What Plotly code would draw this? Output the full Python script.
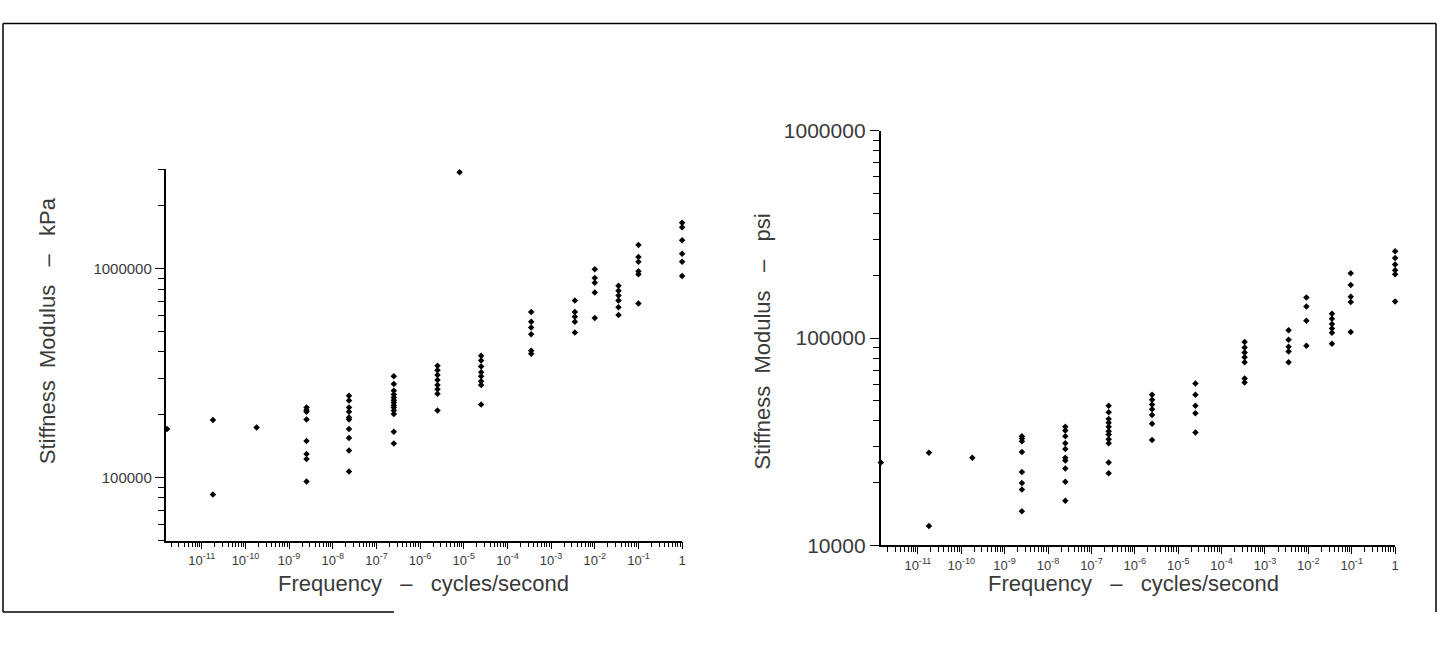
import plotly.graph_objects as go

# ---------------- data ----------------
kpa_freq = [1.6e-12, 1.8e-11, 1.8e-10, 2.5e-9, 2.35e-8, 2.5e-7, 2.5e-6, 8e-6,
            2.5e-5, 3.5e-4, 3.5e-3, 1e-2, 3.5e-2, 1e-1, 1.0]
kpa_values = [
    [171000],
    [189000, 83000],
    [174000],
    [217000, 211000, 207000, 190000, 150000, 130000, 123000, 96000],
    [247000, 234000, 217000, 207000, 194000, 190000, 171000, 155000, 135000, 107000],
    [306000, 281000, 261000, 250000, 242000, 235000, 229000, 222000, 217000, 210000, 202000, 166000, 146000],
    [344000, 327000, 310000, 294000, 278000, 265000, 252000, 210000],
    [2900000],
    [384000, 364000, 341000, 320000, 306000, 290000, 278000, 224000],
    [621000, 558000, 524000, 486000, 405000, 392000],
    [706000, 621000, 589000, 558000, 496000],
    [995000, 903000, 857000, 770000, 582000],
    [830000, 786000, 745000, 706000, 655000, 601000],
    [1300000, 1140000, 1080000, 973000, 942000, 683000],
    [1660000, 1580000, 1370000, 1180000, 1080000, 923000],
]

psi_freq = [1.4e-12, 1.8e-11, 1.8e-10, 2.5e-9, 2.5e-8, 2.5e-7, 2.5e-6,
            2.5e-5, 3.4e-4, 3.5e-3, 9e-3, 3.5e-2, 9.5e-2, 1.0]
psi_values = [
    [25100],
    [28000, 12400],
    [26500],
    [33600, 32800, 31800, 28200, 22600, 20000, 18600, 14600],
    [37300, 35800, 33600, 31100, 29200, 26500, 25700, 23500, 20300, 16400],
    [47200, 43800, 40700, 39000, 37300, 35500, 34300, 32500, 31100, 25100, 22300],
    [53200, 50400, 47800, 45300, 42500, 38600, 32200],
    [60400, 53200, 47200, 43400, 35000],
    [95800, 90000, 85100, 80700, 76500, 63800, 61100],
    [109000, 98000, 90800, 86100, 76500],
    [157000, 142000, 121000, 91800],
    [131000, 124000, 117000, 111000, 106000, 93800],
    [205000, 180000, 158000, 149000, 107000],
    [262000, 243000, 226000, 212000, 203000, 150000],
]

x_tick_vals = [1e-11, 1e-10, 1e-9, 1e-8, 1e-7, 1e-6, 1e-5, 1e-4, 1e-3, 1e-2, 1e-1, 1]
x_tick_text = ["10<sup>-11</sup>", "10<sup>-10</sup>", "10<sup>-9</sup>", "10<sup>-8</sup>",
               "10<sup>-7</sup>", "10<sup>-6</sup>", "10<sup>-5</sup>", "10<sup>-4</sup>",
               "10<sup>-3</sup>", "10<sup>-2</sup>", "10<sup>-1</sup>", "1"]
kpa_tick_vals = [100000, 1000000]
kpa_tick_text = ["100000", "1000000"]
psi_tick_vals = [10000, 100000, 1000000]
psi_tick_text = ["10000", "100000", "1000000"]


def expand(freqs, vals):
    xs, ys = [], []
    for f, vs in zip(freqs, vals):
        for v in vs:
            xs.append(f)
            ys.append(v)
    return xs, ys


kx, ky = expand(kpa_freq, kpa_values)
px, py = expand(psi_freq, psi_values)

W, H = 1446, 649
FONT = "Liberation Sans, Arial, sans-serif"
TXT = "#3a3a3a"

fig = go.Figure()
fig.add_trace(go.Scatter(x=kx, y=ky, mode="markers", xaxis="x", yaxis="y",
                         marker=dict(symbol="diamond", size=5, color="black"),
                         cliponaxis=False, showlegend=False))
fig.add_trace(go.Scatter(x=px, y=py, mode="markers", xaxis="x2", yaxis="y2",
                         marker=dict(symbol="diamond", size=5, color="black"),
                         cliponaxis=False, showlegend=False))


def xaxis(domain, rng, anchor):
    return dict(type="log", domain=domain, range=rng, anchor=anchor,
                showline=True, linecolor="black", linewidth=1.5,
                showgrid=False, zeroline=False,
                tickmode="array", tickvals=x_tick_vals, ticktext=x_tick_text,
                ticks="outside", ticklen=7, tickcolor="black", tickwidth=1,
                minor=dict(ticks="outside", ticklen=5, dtick="D1", tickcolor="black",
                           showgrid=False),
                tickfont=dict(family=FONT, size=13, color=TXT))


def yaxis(domain, rng, anchor, vals, text, fsize):
    return dict(type="log", domain=domain, range=rng, anchor=anchor,
                showline=True, linecolor="black", linewidth=1.5,
                showgrid=False, zeroline=False,
                tickmode="array", tickvals=vals, ticktext=text,
                ticks="outside", ticklen=9, tickcolor="black", tickwidth=1,
                minor=dict(ticks="outside", ticklen=6, dtick="D1", tickcolor="black",
                           showgrid=False),
                tickfont=dict(family=FONT, size=fsize, color=TXT))


fig.update_layout(
    width=W, height=H,
    margin=dict(l=0, r=0, t=0, b=0),
    paper_bgcolor="white", plot_bgcolor="white",
    xaxis=xaxis([166 / W, 684 / W], [-11.83, 0], "y"),
    yaxis=yaxis([1 - 548 / H, 1 - 163 / H], [4.699, 6.477], "x",
                kpa_tick_vals, kpa_tick_text, 15),
    xaxis2=xaxis([883 / W, 1399 / W], [-11.86, 0], "y2"),
    yaxis2=yaxis([1 - 553 / H, 1 - 123 / H], [4, 6], "x2",
                 psi_tick_vals, psi_tick_text, 21),
)

ann_font = dict(family=FONT, size=22, color=TXT)
NB = "\u00a0"
SEP = f"{NB}{NB}{NB}–{NB}{NB}{NB}"
fig.add_annotation(x=425 / W, y=1 - 592 / H, xref="paper", yref="paper",
                   text=f"Frequency{SEP}cycles/second", showarrow=False,
                   font=ann_font, xanchor="center", yanchor="middle")
fig.add_annotation(x=1137 / W, y=1 - 592 / H, xref="paper", yref="paper",
                   text=f"Frequency{SEP}cycles/second", showarrow=False,
                   font=ann_font, xanchor="center", yanchor="middle")
fig.add_annotation(x=47 / W, y=1 - 330 / H, xref="paper", yref="paper",
                   text=f"Stiffness{NB}{NB}Modulus{SEP}kPa", showarrow=False,
                   font=ann_font, textangle=-90, xanchor="center", yanchor="middle")
fig.add_annotation(x=765 / W, y=1 - 342 / H, xref="paper", yref="paper",
                   text=f"Stiffness{NB}{NB}Modulus{SEP}psi", showarrow=False,
                   font=ann_font, textangle=-90, xanchor="center", yanchor="middle")

# outer frame of the scanned page
line = dict(color="black", width=1.5)
fig.add_shape(type="line", xref="paper", yref="paper", x0=3 / W, x1=1440 / W,
              y0=1 - 12 / H, y1=1 - 12 / H, line=line)
fig.add_shape(type="line", xref="paper", yref="paper", x0=3 / W, x1=3 / W,
              y0=1 - 12 / H, y1=1 - 622 / H, line=line)
fig.add_shape(type="line", xref="paper", yref="paper", x0=1440 / W, x1=1440 / W,
              y0=1 - 12 / H, y1=1 - 622 / H, line=line)
fig.add_shape(type="line", xref="paper", yref="paper", x0=3 / W, x1=395 / W,
              y0=1 - 622 / H, y1=1 - 622 / H, line=line)

fig.write_html("out.html",
               post_script="document.body.style.margin='0';document.body.style.overflow='hidden';")
